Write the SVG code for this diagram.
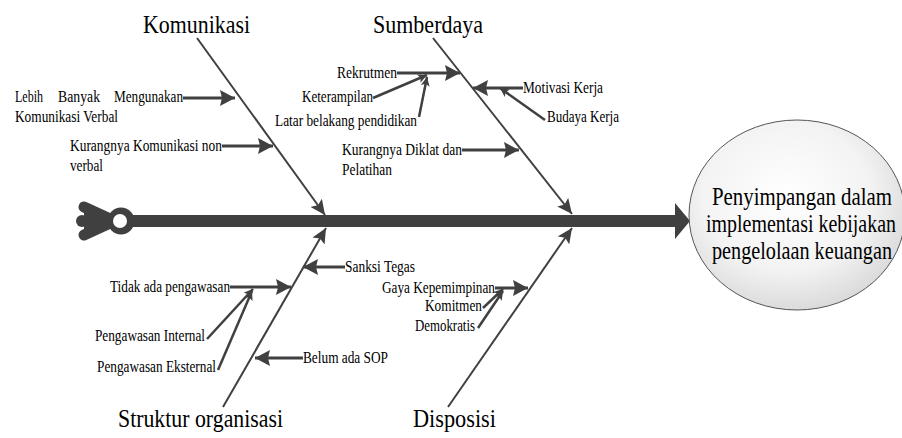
<svg xmlns="http://www.w3.org/2000/svg" width="902" height="438" viewBox="0 0 902 438" font-family="Liberation Serif, DejaVu Serif, Times New Roman, serif">
<defs>
<style>
text{font-family:"Liberation Serif","DejaVu Serif","Times New Roman",serif;fill:#000}
.t{font-size:26px}
.l{font-size:16px}
.e{font-size:25px}
.bone{stroke:#404040;stroke-width:2;fill:none}
.sub{stroke:#404040;stroke-width:3;fill:none}
.ss{stroke:#404040;stroke-width:2.5;fill:none}
</style>
<marker id="ab" markerUnits="userSpaceOnUse" markerWidth="16" markerHeight="14" refX="15" refY="7" orient="auto"><path d="M0,0 L15,7 L0,14 L3,7 z" fill="#404040"/></marker>
<marker id="as" markerUnits="userSpaceOnUse" markerWidth="16" markerHeight="18" refX="15" refY="8" orient="auto"><path d="M0,0 L15,8 L0,16 L2,8 z" fill="#404040"/></marker>
<marker id="am" markerUnits="userSpaceOnUse" markerWidth="10" markerHeight="10" refX="9" refY="4.5" orient="auto"><path d="M0,0 L9,4.5 L0,9 L2,4.5 z" fill="#404040"/></marker>
<radialGradient id="eg" cx="0.45" cy="0.4" r="0.65">
<stop offset="0" stop-color="#ffffff"/>
<stop offset="0.6" stop-color="#f3f3f3"/>
<stop offset="1" stop-color="#d6d6d6"/>
</radialGradient>
</defs>
<rect width="902" height="438" fill="#fff"/>
<g id="connectors">
<g id="spine" fill="#404040">
<rect x="132" y="215" width="544" height="12"/>
<polygon points="675,203 690,221 675,239"/>
<line x1="84" y1="207" x2="108" y2="218" stroke="#404040" stroke-width="11" stroke-linecap="round"/>
<line x1="84" y1="235" x2="108" y2="224" stroke="#404040" stroke-width="11" stroke-linecap="round"/>
<polygon points="84,207 108,216 108,226 84,235"/>
<circle cx="82" cy="221" r="6"/>
<circle cx="121" cy="221" r="13.5"/>
<circle cx="120" cy="221" r="7" fill="#fff"/>
</g>
<g id="bones">
<line class="bone" x1="197" y1="38" x2="325" y2="215" marker-end="url(#ab)"/>
<line class="bone" x1="433" y1="38" x2="572" y2="214" marker-end="url(#ab)"/>
<line class="bone" x1="223" y1="407" x2="326" y2="228" marker-end="url(#ab)"/>
<line class="bone" x1="448" y1="407" x2="572" y2="228" marker-end="url(#ab)"/>
</g>
<g id="sub-arrows">
<line class="sub" x1="183" y1="98" x2="235" y2="98" marker-end="url(#as)"/>
<line class="sub" x1="222" y1="146" x2="273" y2="146" marker-end="url(#as)"/>
<line class="sub" x1="397" y1="73" x2="460" y2="73" marker-end="url(#as)"/>
<line class="sub" x1="523" y1="88" x2="473" y2="88" marker-end="url(#as)"/>
<line class="sub" x1="462" y1="150" x2="519" y2="150" marker-end="url(#as)"/>
<line class="sub" x1="230" y1="287" x2="291" y2="287" marker-end="url(#as)"/>
<line class="sub" x1="345" y1="267" x2="303" y2="267" marker-end="url(#as)"/>
<line class="sub" x1="303" y1="358" x2="255" y2="358" marker-end="url(#as)"/>
<line class="sub" x1="495" y1="288" x2="528" y2="288" marker-end="url(#as)"/>
</g>
<g id="minor-arrows">
<line class="ss" x1="373" y1="98" x2="427" y2="75" marker-end="url(#am)"/>
<line class="ss" x1="419" y1="117" x2="427" y2="77" marker-end="url(#am)"/>
<line class="ss" x1="545" y1="120" x2="500" y2="88" marker-end="url(#am)"/>
<line class="ss" x1="207" y1="339" x2="253" y2="289" marker-end="url(#am)"/>
<line class="ss" x1="218" y1="370" x2="252" y2="291" marker-end="url(#am)"/>
<line class="ss" x1="483" y1="308" x2="503" y2="289" marker-end="url(#am)"/>
<line class="ss" x1="478" y1="328" x2="503" y2="291" marker-end="url(#am)"/>
</g>
</g>
<g id="effect">
<ellipse cx="797" cy="215" rx="108" ry="95" fill="url(#eg)" stroke="#555" stroke-width="1"/>
<text class="e" x="802" y="205" text-anchor="middle" textLength="180" lengthAdjust="spacingAndGlyphs">Penyimpangan dalam</text>
<text class="e" x="801" y="232" text-anchor="middle" textLength="190" lengthAdjust="spacingAndGlyphs">implementasi kebijakan</text>
<text class="e" x="802" y="259" text-anchor="middle" textLength="180" lengthAdjust="spacingAndGlyphs">pengelolaan keuangan</text>
</g>
<g id="cat-komunikasi"><text class="t" x="143" y="33" textLength="107" lengthAdjust="spacingAndGlyphs">Komunikasi</text></g>
<g id="cat-sumberdaya"><text class="t" x="373" y="33" textLength="110" lengthAdjust="spacingAndGlyphs">Sumberdaya</text></g>
<g id="cat-struktur"><text class="t" x="118" y="427" textLength="165" lengthAdjust="spacingAndGlyphs">Struktur organisasi</text></g>
<g id="cat-disposisi"><text class="t" x="413" y="427" textLength="83" lengthAdjust="spacingAndGlyphs">Disposisi</text></g>
<g id="c-lebih"><text class="l" y="102"><tspan x="15" textLength="28" lengthAdjust="spacingAndGlyphs">Lebih</tspan><tspan x="58" textLength="42" lengthAdjust="spacingAndGlyphs">Banyak</tspan><tspan x="114" textLength="69" lengthAdjust="spacingAndGlyphs">Mengunakan</tspan></text>
<text class="l" x="15" y="122" textLength="103" lengthAdjust="spacingAndGlyphs">Komunikasi Verbal</text></g>
<g id="c-kurang-kom"><text class="l" x="70" y="151" textLength="152" lengthAdjust="spacingAndGlyphs">Kurangnya Komunikasi non</text>
<text class="l" x="70" y="171" textLength="33" lengthAdjust="spacingAndGlyphs">verbal</text></g>
<g id="c-rekrutmen"><text class="l" x="337" y="78" textLength="60" lengthAdjust="spacingAndGlyphs">Rekrutmen</text></g>
<g id="c-keterampilan"><text class="l" x="302" y="102" textLength="71" lengthAdjust="spacingAndGlyphs">Keterampilan</text></g>
<g id="c-latar"><text class="l" x="275" y="126" textLength="142" lengthAdjust="spacingAndGlyphs">Latar belakang pendidikan</text></g>
<g id="c-motivasi"><text class="l" x="523" y="93" textLength="80" lengthAdjust="spacingAndGlyphs">Motivasi Kerja</text></g>
<g id="c-budaya"><text class="l" x="547" y="122" textLength="72" lengthAdjust="spacingAndGlyphs">Budaya Kerja</text></g>
<g id="c-diklat"><text class="l" x="342" y="155" textLength="120" lengthAdjust="spacingAndGlyphs">Kurangnya Diklat dan</text>
<text class="l" x="342" y="175" textLength="50" lengthAdjust="spacingAndGlyphs">Pelatihan</text></g>
<g id="c-tidak"><text class="l" x="110" y="292" textLength="120" lengthAdjust="spacingAndGlyphs">Tidak ada pengawasan</text></g>
<g id="c-internal"><text class="l" x="95" y="341" textLength="110" lengthAdjust="spacingAndGlyphs">Pengawasan Internal</text></g>
<g id="c-eksternal"><text class="l" x="97" y="372" textLength="119" lengthAdjust="spacingAndGlyphs">Pengawasan Eksternal</text></g>
<g id="c-sanksi"><text class="l" x="345" y="272" textLength="70" lengthAdjust="spacingAndGlyphs">Sanksi Tegas</text></g>
<g id="c-sop"><text class="l" x="303" y="363" textLength="85" lengthAdjust="spacingAndGlyphs">Belum ada SOP</text></g>
<g id="c-gaya"><text class="l" x="382" y="293" textLength="113" lengthAdjust="spacingAndGlyphs">Gaya Kepemimpinan</text></g>
<g id="c-komitmen"><text class="l" x="425" y="311" textLength="57" lengthAdjust="spacingAndGlyphs">Komitmen</text></g>
<g id="c-demokratis"><text class="l" x="415" y="331" textLength="60" lengthAdjust="spacingAndGlyphs">Demokratis</text></g>
</svg>
